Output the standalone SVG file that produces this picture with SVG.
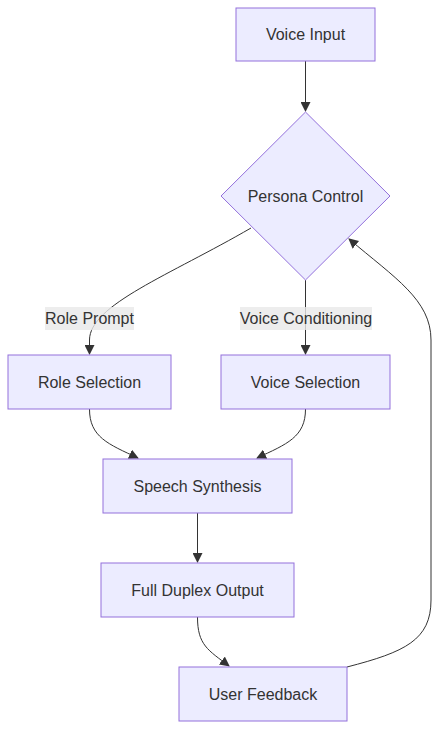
<svg xmlns="http://www.w3.org/2000/svg" width="439" height="730" viewBox="0 0 439 730">
<style>
.node rect, .node polygon { fill: #ECECFF; stroke: #9370DB; stroke-width: 1; }
text { font-family: "Liberation Sans", Arial, sans-serif; font-size: 16px; fill: #333; text-anchor: middle; dominant-baseline: central; }
.edge { fill: none; stroke: #333; stroke-width: 1; marker-end: url(#arrow); }
.lbl rect { fill: #e8e8e8; opacity: 0.8; }
</style>
<defs>
<marker id="arrow" viewBox="0 0 10 10" refX="9" refY="5" markerWidth="10" markerHeight="10" markerUnits="userSpaceOnUse" orient="auto">
<path d="M0,0 L10,5 L0,10 z" fill="#333"/>
</marker>
</defs>
<g id="connectors">
<path class="edge" d="M305.5,61 L305.5,111"/>
<path class="edge" d="M251,228 C170,275 89.5,305 89.5,340 L89.5,354"/>
<path class="edge" d="M305.5,280 L305.5,354"/>
<path class="edge" d="M89.5,409 C89.5,437 108,444 138,458"/>
<path class="edge" d="M305.5,409 C305.5,437 287,444 257,458"/>
<path class="edge" d="M197.5,513 L197.5,562"/>
<path class="edge" d="M197.5,617 C197.5,645 208,650 229,666"/>
<path class="edge" d="M347,667 C405,652 431,640 431,600 L431,340 C431,300 395,278 349,239"/>
</g>
<g id="edge-labels">
<g class="lbl"><rect x="45" y="307" width="89" height="23"/><text x="89.5" y="318.5">Role Prompt</text></g>
<g class="lbl"><rect x="240" y="307" width="132" height="23"/><text x="306" y="318.5">Voice Conditioning</text></g>
</g>
<g id="voice-input" class="node"><rect x="236" y="8" width="139" height="53"/><text x="305.5" y="34.5">Voice Input</text></g>
<g id="persona-control" class="node"><polygon points="305.5,112 390,196 305.5,280 221,196"/><text x="305.5" y="196">Persona Control</text></g>
<g id="role-selection" class="node"><rect x="8" y="355" width="163" height="54"/><text x="89.5" y="382">Role Selection</text></g>
<g id="voice-selection" class="node"><rect x="221" y="355" width="169" height="54"/><text x="305.5" y="382">Voice Selection</text></g>
<g id="speech-synthesis" class="node"><rect x="103" y="459" width="189" height="54"/><text x="197.5" y="486">Speech Synthesis</text></g>
<g id="full-duplex-output" class="node"><rect x="101" y="563" width="193" height="54"/><text x="197.5" y="590">Full Duplex Output</text></g>
<g id="user-feedback" class="node"><rect x="179" y="667" width="168" height="54"/><text x="263" y="694">User Feedback</text></g>
</svg>
